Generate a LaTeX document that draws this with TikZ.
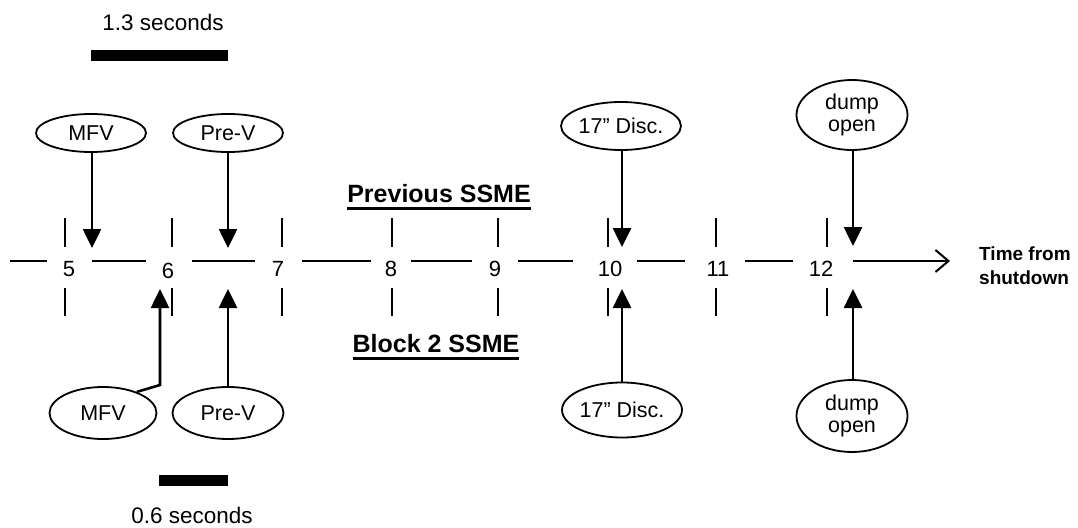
\documentclass[tikz,border=0pt]{standalone}
\usepackage{fontspec}
\setmainfont{Liberation Sans}
\usetikzlibrary{shapes.geometric,arrows.meta}
\newcommand\myul[1]{\setbox0=\hbox{#1}\rlap{\rule[-7.5pt]{\wd0}{3pt}}\box0}
\tikzset{
  ev/.style={draw, ellipse, line width=1.8pt, inner sep=0pt, align=center,
    font=\fontsize{21.5}{22}\selectfont},
  arr/.style={line width=2.6pt, -{Triangle[length=19pt,width=18pt]}},
  tick/.style={line width=2.5pt},
  seg/.style={line width=2pt},
  num/.style={font=\fontsize{22}{24}\selectfont, inner sep=0pt},
  lbl/.style={font=\fontsize{22.5}{24}\selectfont, inner sep=0pt},
  head/.style={font=\fontsize{25}{27}\bfseries\selectfont, inner sep=0pt, anchor=base},
}
\begin{document}
\begin{tikzpicture}[x=1pt,y=-1pt]
\useasboundingbox (0,0) rectangle (1078,527);

% scale bars
\node[lbl] (t13) at (163,22) {1.3 seconds};
\fill (91,50) rectangle (228,61);
\node[lbl] (t06) at (192,515) {0.6 seconds};
\fill (159,475) rectangle (228,486);

% headings
\node[head] (prev) at (439,202) {\myul{Previous SSME}};
\node[head] (blk) at (436,352) {\myul{Block 2 SSME}};

% axis numbers
\node[num] (n5) at (69,269) {5};
\node[num] (n6) at (168,271) {6};
\node[num] (n7) at (278,269) {7};
\node[num] (n8) at (391,269) {8};
\node[num] (n9) at (495,269) {9};
\node[num] (n10) at (610,269) {10};
\node[num] (n11) at (718,269) {11};
\node[num] (n12) at (821,269) {12};

% axis segments
\coordinate (s0) at (10,261);
\coordinate (s5a) at (47,261); \coordinate (s5b) at (92,261);
\coordinate (s6a) at (146,261); \coordinate (s6b) at (192,261);
\coordinate (s7a) at (255,261); \coordinate (s7b) at (302,261);
\coordinate (s8a) at (371,261); \coordinate (s8b) at (411,261);
\coordinate (s9a) at (472,261); \coordinate (s9b) at (518,261);
\coordinate (s10a) at (573,261); \coordinate (s10b) at (637,261);
\coordinate (s11a) at (685,261); \coordinate (s11b) at (745,261);
\coordinate (s12a) at (793,261); \coordinate (s12b) at (853,261);
\coordinate (send) at (950,261);
\draw[seg] (s0) -- (s5a);
\draw[seg] (s5b) -- (s6a);
\draw[seg] (s6b) -- (s7a);
\draw[seg] (s7b) -- (s8a);
\draw[seg] (s8b) -- (s9a);
\draw[seg] (s9b) -- (s10a);
\draw[seg] (s10b) -- (s11a);
\draw[seg] (s11b) -- (s12a);
\draw[seg, -{Straight Barb[length=13pt,width=22pt,line width=2pt]}] (s12b) -- (send);

\node[font=\fontsize{19}{24}\bfseries\selectfont, align=left, anchor=west, inner sep=0pt] (tfs) at (979,266) {Time from\\shutdown};

% ticks
\foreach \x in {65,172,282,392,498,608,716,827}{
  \draw[tick] (\x,218) -- (\x,247);
  \draw[tick] (\x,288) -- (\x,316);
}

% upper ellipses
\node[ev, minimum width=110pt, minimum height=38pt] (mfvA) at (91,133) {MFV};
\node[ev, minimum width=110pt, minimum height=38pt] (preA) at (228,133) {Pre-V};
\node[ev, minimum width=112pt, minimum height=48pt] (discA) at (621,126) {17" Disc.};
\node[ev, minimum width=111pt, minimum height=70pt] (dumpA) at (852,115) {dump\\open};

% lower ellipses
\node[ev, minimum width=107pt, minimum height=52pt] (mfvB) at (103,413) {MFV};
\node[ev, minimum width=111pt, minimum height=52pt] (preB) at (228,413) {Pre-V};
\node[ev, minimum width=110pt, minimum height=55pt] (discB) at (622,410) {17" Disc.};
\node[ev, minimum width=111pt, minimum height=72pt] (dumpB) at (852,416) {dump\\open};

% arrow tips
\coordinate (tA1) at (92,248);
\coordinate (tA2) at (228,248);
\coordinate (tA3) at (622,247);
\coordinate (tA4) at (853,246);
\coordinate (tB1) at (160,289);
\coordinate (tB2) at (228,289);
\coordinate (tB3) at (622,289);
\coordinate (tB4) at (853,289);
\coordinate (kB1) at (160,385);

\draw[arr] (mfvA.south -| tA1) -- (tA1);
\draw[arr] (preA.south) -- (tA2);
\draw[arr] (discA.south -| tA3) -- (tA3);
\draw[arr] (dumpA.south -| tA4) -- (tA4);

\draw[arr] (mfvB.32) -- (kB1) -- (tB1);
\draw[arr] (preB.north) -- (tB2);
\draw[arr] (discB.north) -- (tB3);
\draw[arr] (dumpB.north -| tB4) -- (tB4);
\end{tikzpicture}
\end{document}
